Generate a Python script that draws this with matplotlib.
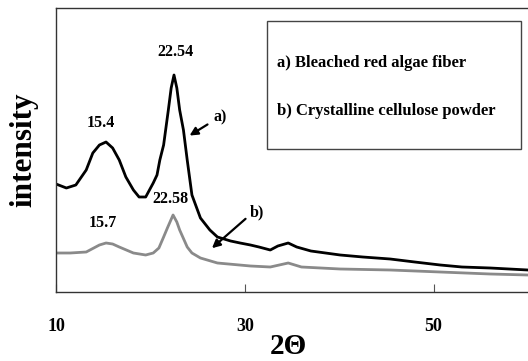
import matplotlib
matplotlib.use("Agg")
import matplotlib.pyplot as plt
from matplotlib.patches import Rectangle

plt.rcParams['font.family'] = ['Liberation Serif', 'DejaVu Serif']
plt.rcParams['font.weight'] = 'bold'

# a) Bleached red algae fiber (arbitrary intensity units)
two_theta_a = [10.0, 11.1, 12.1, 13.2, 13.9, 14.6, 15.3, 16.0, 16.7, 17.4,
               18.2, 18.8, 19.5, 20.3, 20.7, 21.0, 21.4, 21.9, 22.2, 22.5,
               22.8, 23.1, 23.5, 23.9, 24.4, 25.3, 26.3, 27.1, 28.5, 29.5,
               30.6, 31.5, 32.7, 33.5, 34.6, 35.5, 37.0, 40.1, 42.5, 45.4,
               48.0, 50.7, 53.0, 56.0, 60.0]
intensity_a = [108, 104, 107, 122, 139, 147, 150, 144, 132, 115,
               102, 95, 95, 109, 117, 132, 147, 182, 204, 217,
               204, 182, 162, 132, 97, 74, 62, 55, 51, 49,
               47, 45, 42, 46, 49, 45, 41, 37, 35, 33,
               30, 27, 25, 24, 22]

# b) Crystalline cellulose powder
two_theta_b = [10.0, 11.5, 13.2, 14.6, 15.3, 16.0, 16.7, 18.2, 19.5, 20.3,
               20.9, 21.4, 21.8, 22.4, 22.8, 23.1, 23.9, 24.4, 25.3, 27.1,
               30.6, 32.7, 34.6, 36.0, 40.1, 45.4, 50.7, 56.0, 60.0]
intensity_b = [39, 39, 40, 47, 49, 48, 45, 39, 37, 39,
               44, 55, 64, 77, 70, 62, 45, 39, 34, 29,
               26, 25, 29, 25, 23, 22, 20, 18, 17]

x_ticks = [10, 30, 50]

fig = plt.figure(figsize=(5.28, 3.61), dpi=100)
ax = fig.add_axes([56 / 528, 1 - 292 / 361, 1 - 56 / 528, 284 / 361])

ax.plot(two_theta_a, intensity_a, color='black', lw=2.0)
ax.plot(two_theta_b, intensity_b, color='#8a8a8a', lw=2.0)

ax.set_xlim(10, 60)
ax.set_ylim(0, 284)
ax.set_xticks(x_ticks)
ax.set_yticks([])
ax.tick_params(axis='x', direction='in', length=6, pad=19, labelsize=13, color='#555555')
for lab in ax.get_xticklabels():
    lab.set_fontweight('bold')
ax.spines['right'].set_visible(False)
for s in ['left', 'top', 'bottom']:
    ax.spines[s].set_color('#333333')
    ax.spines[s].set_linewidth(1.0)

# peak labels
ax.text(22.6, 240, '22.54', ha='center', va='center', fontsize=11.5)
ax.text(14.8, 169, '15.4', ha='center', va='center', fontsize=11.5)
ax.text(22.1, 93, '22.58', ha='center', va='center', fontsize=11.5)
ax.text(15.0, 69, '15.7', ha='center', va='center', fontsize=11.5)

# pointer arrows
ax.annotate('', xy=(23.9, 155), xytext=(26.3, 169),
            arrowprops=dict(arrowstyle='-|>', lw=1.6, color='black', mutation_scale=12))
ax.text(27.4, 175, 'a)', ha='center', va='center', fontsize=11.5)
ax.annotate('', xy=(26.3, 42), xytext=(30.3, 75),
            arrowprops=dict(arrowstyle='-|>', lw=1.6, color='black', mutation_scale=12))
ax.text(31.3, 80, 'b)', ha='center', va='center', fontsize=11.5)

# legend box
ax.add_patch(Rectangle((0.447, 0.504), 0.538, 0.451, transform=ax.transAxes,
                       fill=False, edgecolor='#444444', lw=1.0))
ax.text(0.468, 0.806, 'a) Bleached red algae fiber', transform=ax.transAxes,
        ha='left', va='center', fontsize=12)
ax.text(0.468, 0.637, 'b) Crystalline cellulose powder', transform=ax.transAxes,
        ha='left', va='center', fontsize=12)

fig.text(24 / 528, 1 - 150 / 361, 'intensity', rotation=90, ha='center', va='center', fontsize=22.5)
fig.text(288 / 528, 1 - 354 / 361, '2Θ', ha='center', va='baseline', fontsize=21)

fig.savefig('out.png', dpi=100)
